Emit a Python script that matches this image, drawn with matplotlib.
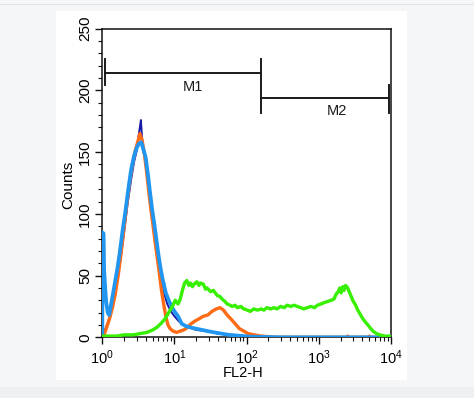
import numpy as np
import matplotlib
matplotlib.use("Agg")
import matplotlib.pyplot as plt
from matplotlib.patches import Rectangle
from matplotlib.ticker import LogLocator, MultipleLocator, LogFormatterMathtext

plt.rcParams['font.family'] = ['Liberation Sans', 'DejaVu Sans']
plt.rcParams['mathtext.fontset'] = 'custom'
plt.rcParams['mathtext.rm'] = 'Liberation Sans'
plt.rcParams['mathtext.default'] = 'regular'

# ---------------- data (log10 of FL2-H channel, counts) ----------------
lb_logx = [0.0, 0.003, 0.018, 0.025, 0.04, 0.055, 0.075, 0.095, 0.12, 0.15, 0.18, 0.21,
           0.24, 0.28, 0.32, 0.36, 0.40, 0.44, 0.48, 0.51, 0.54, 0.57, 0.60, 0.63, 0.66,
           0.69, 0.72, 0.75, 0.78, 0.81, 0.84, 0.88, 0.92, 0.96, 1.00, 1.05, 1.10, 1.16,
           1.22, 1.30, 1.38, 1.46, 1.55, 1.65, 1.75, 1.85, 1.95, 2.05, 2.2, 2.5, 3.0, 3.5, 4.0]
lb_counts = [0, 85, 84, 55, 40, 28, 20, 18, 26, 36, 46, 56,
             68, 86, 102, 120, 136, 147, 154, 157, 158, 152, 146, 133, 118,
             104, 92, 79, 66, 55, 46, 36, 30, 25, 21, 17, 11, 9,
             8, 7, 6, 5, 4, 3, 2, 1.5, 1, 0.5, 0.3, 0, 0, 0, 0]

db_logx = [0.0, 0.05, 0.10, 0.15, 0.20, 0.25, 0.30, 0.35, 0.40, 0.44, 0.48, 0.50, 0.52,
           0.535, 0.55, 0.57, 0.60, 0.63, 0.66, 0.70, 0.74, 0.78, 0.82, 0.86, 0.90, 0.95,
           1.00, 1.06, 1.12, 1.20, 1.30, 1.45, 1.60, 1.80, 2.0, 2.3, 3.0, 4.0]
db_counts = [0, 8, 16, 28, 44, 62, 84, 108, 128, 142, 152, 162, 170,
             176, 162, 152, 141, 128, 113, 95, 76, 60, 45, 35, 27, 21,
             17, 13, 10, 8, 6, 5, 3, 2, 1, 0.3, 0, 0]

or_logx = [0.0, 0.03, 0.06, 0.10, 0.14, 0.18, 0.22, 0.26, 0.30, 0.34, 0.38, 0.42, 0.46,
           0.49, 0.52, 0.55, 0.58, 0.61, 0.64, 0.67, 0.70, 0.73, 0.76, 0.79, 0.82, 0.85,
           0.88, 0.91, 0.94, 0.98, 1.03, 1.08, 1.13, 1.18, 1.23, 1.28, 1.34, 1.40, 1.46,
           1.52, 1.58, 1.63, 1.68, 1.73, 1.78, 1.84, 1.90, 1.96, 2.02, 2.10, 2.20, 2.30,
           2.40, 3.38, 3.40, 3.42, 3.68, 3.70, 3.72, 4.0]
or_counts = [0, 3, 8, 15, 24, 35, 50, 68, 88, 108, 126, 141, 152,
             158, 165, 160, 150, 136, 120, 105, 92, 78, 65, 52, 38, 27,
             17, 10, 7, 5, 4, 5, 6, 8, 11, 13, 15, 17, 18,
             21, 23, 24, 22, 18, 15, 11, 7, 5, 3, 2, 1, 0.5,
             0, 0, 1, 0, 0, 1, 0, 0]

gr_logx = [0.0, 0.1, 0.2, 0.3, 0.43, 0.52, 0.62, 0.70, 0.755, 0.81, 0.87, 0.94, 0.98,
           1.01, 1.05, 1.08, 1.11, 1.14, 1.17, 1.20, 1.22, 1.25, 1.27, 1.31, 1.34, 1.36,
           1.40, 1.43, 1.45, 1.50, 1.54, 1.59, 1.63, 1.66, 1.70, 1.73, 1.77, 1.80, 1.84,
           1.87, 1.92, 1.96, 2.01, 2.05, 2.10, 2.15, 2.20, 2.24, 2.28, 2.33, 2.38, 2.42,
           2.47, 2.52, 2.56, 2.61, 2.66, 2.70, 2.75, 2.79, 2.84, 2.89, 2.94, 2.98, 3.03,
           3.07, 3.12, 3.17, 3.21, 3.24, 3.27, 3.29, 3.31, 3.33, 3.35, 3.37, 3.40, 3.42,
           3.45, 3.47, 3.51, 3.54, 3.58, 3.61, 3.65, 3.68, 3.72, 3.75, 3.80, 3.84, 3.91, 4.0]
gr_counts = [1, 1, 1, 2, 2, 3, 4, 6, 8, 11, 15, 22, 26,
             30, 27, 31, 38, 44, 46, 42, 44, 41, 43, 45, 42, 44,
             43, 39, 40, 37, 38, 34, 33, 31, 29, 27, 26, 25, 26,
             24, 25, 23, 22, 21, 23, 22, 23, 22, 24, 23, 24, 23,
             25, 24, 26, 25, 26, 25, 24, 23, 24, 25, 24, 26, 27,
             28, 29, 30, 31, 35, 37, 40, 36, 41, 38, 42, 40, 37,
             33, 30, 26, 22, 18, 15, 12, 10, 7, 5, 3, 2, 1, 1]

x_ticks = [1, 10, 100, 1000, 10000]
y_ticks = [0, 50, 100, 150, 200, 250]

# marker gates: (start, end, level, label, label_x, label_y)
m1 = (1.09, 156, 214, 'M1', 17.9, 203)
m2 = (156, 9440, 193.7, 'M2', 1800, 183)

# ---------------- figure ----------------
fig = plt.figure(figsize=(4.74, 3.98), dpi=100, facecolor='#f5f6f7')
fig.patches.append(Rectangle((0, 0), 1, 11 / 398, transform=fig.transFigure,
                             facecolor='#eef0f2', edgecolor='none', zorder=-10))
fig.patches.append(Rectangle((0, 1 - 4.5 / 398), 1, 0.8 / 398, transform=fig.transFigure,
                             facecolor='#e2e4e6', edgecolor='none', zorder=-10))
fig.patches.append(Rectangle((56 / 474, 1 - 380 / 398), (407 - 56) / 474, (380 - 11) / 398,
                             transform=fig.transFigure, facecolor='white',
                             edgecolor='none', zorder=-10))

ax = fig.add_axes([102.3 / 474, 1 - 337.3 / 398, (391 - 102.3) / 474, (337.3 - 28.7) / 398])
ax.set_facecolor('white')

def xs(lx):
    return 10 ** np.asarray(lx, dtype=float)

ax.plot(xs(db_logx), db_counts, color='#1a1aa8', lw=1.4, zorder=3)
ax.plot(xs(or_logx), or_counts, color='#ff6a14', lw=2.4, zorder=4)
ax.plot(xs(lb_logx), lb_counts, color='#2196f0', lw=2.7, zorder=5)
ax.plot(xs(gr_logx), gr_counts, color='#36f000', lw=2.4, zorder=6)

for (x0, x1, lvl, lab, lxp, lyp), caps in ((m1, ((225.5, 204), (225.5, 182))),
                                            (m2, (None, (204.5, 182)))):
    ax.plot([x0, x1], [lvl, lvl], color='#1a1a1a', lw=1.4, zorder=7)
    if caps[0] is not None:
        ax.plot([x0, x0], caps[0], color='#1a1a1a', lw=1.4, zorder=7)
    ax.plot([x1, x1], caps[1], color='#1a1a1a', lw=1.4, zorder=7)
    ax.text(lxp, lyp, lab, ha='center', va='center', fontsize=10.5, color='#1a1a1a')

ax.set_xscale('log')
ax.set_xlim(1, 10000)
ax.set_ylim(0, 250)
ax.set_xticks(x_ticks)
ax.xaxis.set_major_formatter(LogFormatterMathtext())
ax.xaxis.set_minor_locator(LogLocator(base=10, subs=np.arange(2, 10)))
ax.set_yticks(y_ticks)
ax.yaxis.set_minor_locator(MultipleLocator(10))

for s in ax.spines.values():
    s.set_linewidth(1.1)
    s.set_color('#111111')

ax.tick_params(axis='both', which='major', length=5, width=1.0,
               direction='out', color='#111111')
ax.tick_params(axis='both', which='minor', length=3, width=0.8, direction='out',
               color='#111111')
ax.tick_params(axis='y', which='major', labelrotation=90, pad=2.5, labelsize=11)
ax.tick_params(axis='x', which='major', pad=3, labelsize=10.5)
for t in ax.get_yticklabels():
    t.set_va('center')

ax.set_ylabel('Counts', fontsize=11, va='center')
ax.yaxis.set_label_coords(-0.119, 0.494)
ax.set_xlabel('FL2-H', fontsize=10.5, va='center')
ax.xaxis.set_label_coords(0.487, -0.116)

fig.savefig('out.png', dpi=100, facecolor=fig.get_facecolor())
